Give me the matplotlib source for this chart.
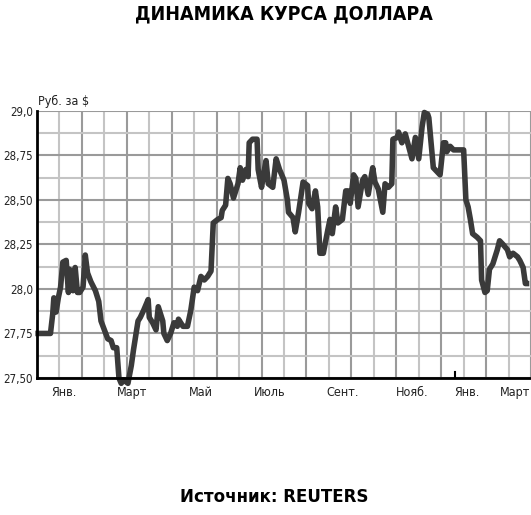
import matplotlib.pyplot as plt
import numpy as np

# exchange rate, rub per $ (day index from start of chart)
days = [1, 12, 14, 15, 17, 19, 21, 23, 26, 28, 29, 32, 34, 36, 38, 41, 43, 45, 48, 52,
        55, 57, 60, 63, 66, 68, 71, 73, 75, 77, 81, 84, 86, 90, 92, 95, 99, 100, 103, 106,
        108, 112, 113, 116, 119, 122, 125, 126, 130, 134, 137, 140, 143, 146, 149, 152, 155, 156, 157, 161,
        164, 165, 168, 170, 172, 175, 179, 181, 183, 186, 188, 189, 192, 196, 197, 200, 202, 204, 206, 210,
        213, 216, 220, 223, 224, 228, 230, 233, 237, 241, 242, 245, 248, 250, 252, 255, 259, 261, 263, 266,
        268, 272, 275, 277, 279, 282, 284, 286, 290, 292, 295, 299, 301, 304, 308, 310, 313, 316, 317, 321,
        322, 325, 328, 331, 334, 337, 340, 343, 345, 348, 349, 353, 356, 359, 362, 364, 365, 368, 371, 380,
        382, 384, 386, 388, 392, 395, 396, 399, 401, 403, 406, 408, 410, 412, 415, 419, 421, 424, 428, 430,
        433, 435, 436]
rate = [27.75, 27.75, 27.86, 27.95, 27.87, 27.95, 28.01, 28.15, 28.16, 27.98, 28.11, 27.99, 28.12, 27.98, 27.98, 28.01, 28.19, 28.09, 28.04, 27.99,
        27.93, 27.82, 27.77, 27.72, 27.71, 27.67, 27.67, 27.50, 27.47, 27.49, 27.47, 27.57, 27.66, 27.82, 27.84, 27.88, 27.94, 27.84, 27.81, 27.77,
        27.90, 27.82, 27.75, 27.71, 27.75, 27.81, 27.79, 27.83, 27.79, 27.79, 27.88, 28.01, 27.99, 28.07, 28.05, 28.07, 28.10, 28.23, 28.37, 28.39,
        28.40, 28.44, 28.47, 28.62, 28.59, 28.51, 28.59, 28.68, 28.61, 28.67, 28.63, 28.82, 28.84, 28.84, 28.67, 28.57, 28.65, 28.72, 28.59, 28.57,
        28.73, 28.67, 28.61, 28.50, 28.43, 28.40, 28.32, 28.43, 28.60, 28.58, 28.48, 28.45, 28.55, 28.46, 28.20, 28.20, 28.33, 28.39, 28.31, 28.46,
        28.37, 28.39, 28.55, 28.55, 28.48, 28.64, 28.62, 28.46, 28.61, 28.63, 28.53, 28.68, 28.60, 28.56, 28.43, 28.59, 28.57, 28.59, 28.84, 28.85,
        28.88, 28.82, 28.87, 28.80, 28.73, 28.85, 28.73, 28.91, 28.99, 28.98, 28.96, 28.68, 28.66, 28.64, 28.82, 28.82, 28.77, 28.80, 28.78, 28.78,
        28.50, 28.46, 28.39, 28.31, 28.29, 28.27, 28.05, 27.98, 27.99, 28.11, 28.14, 28.18, 28.22, 28.27, 28.25, 28.22, 28.18, 28.20, 28.18, 28.16,
        28.12, 28.03, 28.03]

month_pos = [24, 85, 146, 207, 272, 334, 383, 426]
month_labels = ['Янв.', 'Март', 'Май', 'Июль', 'Сент.', 'Нояб.', 'Янв.', 'Март']
y_ticks = [27.5, 27.75, 28.0, 28.25, 28.5, 28.75, 29.0]
y_labels = ['27,50', '27,75', '28,0', '28,25', '28,50', '28,75', '29,0']
year_mark = 372

plt.rcParams['font.family'] = ['DejaVu Sans']

fig = plt.figure(figsize=(5.31, 5.15), dpi=100)
ax = fig.add_axes([37 / 531, 137 / 515, 494 / 531, 267.3 / 515])

# grid: darker every second line
for i, gx in enumerate(np.arange(0, 441, 20)):
    ax.axvline(gx, color='#9a9a9a' if i % 2 == 0 else '#c4c4c4', lw=1.5, zorder=1)
for i, gy in enumerate(np.arange(27.5, 29.01, 0.125)):
    ax.axhline(gy, color='#9a9a9a' if i % 2 == 0 else '#c4c4c4', lw=1.5, zorder=1)

ax.plot(days, rate, color='#3a3a3a', lw=4, solid_joinstyle='round', clip_on=False, zorder=3)

ax.set_xlim(0, 440)
ax.set_ylim(27.5, 29.0)
for s in ['top', 'right']:
    ax.spines[s].set_visible(False)
for s in ['left', 'bottom']:
    ax.spines[s].set_linewidth(2)
    ax.spines[s].set_color('black')
    ax.spines[s].set_zorder(4)

ax.set_xticks(month_pos)
ax.set_xticklabels(month_labels, fontsize=9, fontstretch='condensed', color='#222222')
ax.set_yticks(y_ticks)
ax.set_yticklabels(y_labels, fontsize=8.3, fontstretch='condensed', color='#222222')
ax.tick_params(length=0, pad=6)
ax.tick_params(axis='y', pad=3)

# single year mark on bottom axis
ax.plot([year_mark, year_mark], [27.5, 27.535], color='black', lw=1.5, zorder=5, clip_on=False)

ax.text(0.003, 1.01, 'Руб. за $', transform=ax.transAxes, fontsize=9, fontstretch='condensed',
        ha='left', va='bottom', color='#222222')

fig.text(284 / 531, 1 - 14 / 515, 'ДИНАМИКА КУРСА ДОЛЛАРА', ha='center', va='center',
         fontsize=14, fontweight='bold', fontstretch='condensed')
fig.text(274 / 531, 1 - 497 / 515, 'Источник: REUTERS', ha='center', va='center',
         fontsize=13.3, fontweight='bold', fontstretch='condensed')

plt.savefig('out.png', dpi=100)
